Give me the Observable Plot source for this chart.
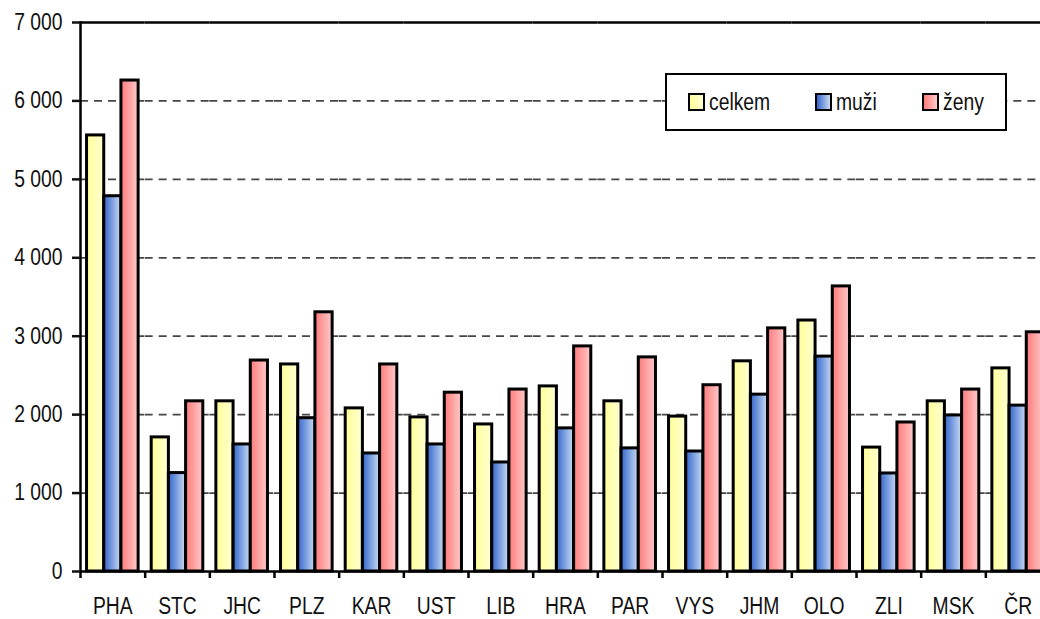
<!DOCTYPE html>
<html>
<head>
<meta charset="utf-8">
<script src="https://cdn.jsdelivr.net/npm/d3@7"></script>
<script src="https://cdn.jsdelivr.net/npm/@observablehq/plot@0.6"></script>
<style>
  html, body { margin: 0; padding: 0; background: #fff; overflow: hidden; }
  #wrap { position: relative; width: 1040px; height: 619px; overflow: hidden; }
  #wrap svg { position: absolute; left: 0; top: 0; max-width: none !important; }
  #legend {
    position: absolute; left: 665px; top: 73px; width: 338px; height: 54px;
    border: 2px solid #000; background: #fff;
    display: flex; align-items: center; justify-content: center; gap: 45px;
    color: #111;
  }
  .item { display: flex; align-items: center; }
  .sw { width: 13px; height: 14px; border: 2px solid #000; margin-right: 4px; flex: none; }
  .lab { display: inline-block; transform-origin: left center; white-space: nowrap; }
</style>
</head>
<body>
<div id="wrap"><div id="legend"></div></div>
<script>
// ---- data ----
const regions = ["PHA", "STC", "JHC", "PLZ", "KAR", "UST", "LIB", "HRA", "PAR", "VYS", "JHM", "OLO", "ZLI", "MSK", "ČR"];
const series = ["celkem", "muži", "ženy"];
const celkem = [5560, 1710, 2170, 2640, 2080, 1965, 1875, 2360, 2170, 1975, 2680, 3200, 1580, 2170, 2590];
const muzi   = [4785, 1255, 1620, 1955, 1505, 1620, 1390, 1825, 1570, 1530, 2255, 2740, 1250, 1990, 2115];
const zeny   = [6260, 2170, 2690, 3305, 2640, 2280, 2320, 2870, 2730, 2375, 3100, 3635, 1900, 2320, 3050];
const yTicks = [0, 1000, 2000, 3000, 4000, 5000, 6000, 7000];
const gridTicks = [1000, 2000, 3000, 4000, 5000, 6000];

const gradStops = {
  "celkem": ["#ffff99", "#ffffd2"],
  "muži":   ["#3366cc", "#cadcf3"],
  "ženy":   ["#ff7b7b", "#ffcaca"]
};

const fontFamily = "'Liberation Sans', Arial, sans-serif";
const fontSize = 23;
const squeeze = 0.84;

const rows = [];
regions.forEach((r, i) => {
  rows.push({region: r, series: series[0], value: celkem[i]});
  rows.push({region: r, series: series[1], value: muzi[i]});
  rows.push({region: r, series: series[2], value: zeny[i]});
});

const width = 1050, height = 619, marginLeft = 80, marginRight = 0, marginTop = 22, marginBottom = 48;
const step = (width - marginLeft - marginRight) / regions.length;
const fmt = (d) => d3.format(",")(d).replace(/,/g, " ");
const gradId = (s) => "grad-" + series.indexOf(s);

const svg = Plot.plot({
  width, height, marginLeft, marginRight, marginTop, marginBottom,
  style: {fontFamily, fontSize: fontSize + "px", color: "#111", background: "#fff"},
  fx: {domain: regions, padding: 0, round: false},
  x: {domain: series, paddingInner: 0, paddingOuter: 0.38, round: false, axis: null},
  y: {domain: [0, 7000], axis: null},
  color: {domain: series, range: series.map((s) => `url(#${gradId(s)})`)},
  marks: [
    Plot.ruleY(gridTicks, {stroke: "#454545", strokeWidth: 1.7, strokeDasharray: "8,6"}),
    Plot.ruleY([7000], {stroke: "#000", strokeWidth: 2.5}),
    Plot.barY(rows, {fx: "region", x: "series", y: "value", fill: "series", stroke: "#000", strokeWidth: 3}),
    Plot.ruleY([0], {stroke: "#000", strokeWidth: 2.5}),
    Plot.ruleX(regions, {fx: (d) => d, x: null, y1: () => 0, y2: () => 0, insetBottom: -7, dx: -step / 2, stroke: "#000", strokeWidth: 2.5}),
    Plot.frame({anchor: "left", facetAnchor: "left", stroke: "#000", strokeWidth: 2.5}),
    Plot.axisY({ticks: yTicks, tickFormat: fmt, tickSize: 8, tickPadding: 10, strokeWidth: 2.5, fontSize, fill: "#111", label: null}),
    Plot.axisFx({anchor: "bottom", tickSize: 0, tickPadding: 26, fontSize, fill: "#111", label: null})
  ]
});

const defs = d3.select(svg).insert("defs", ":first-child");
series.forEach((s) => {
  const g = defs.append("linearGradient").attr("id", gradId(s)).attr("x1", "0").attr("x2", "1").attr("y1", "0").attr("y2", "0");
  g.append("stop").attr("offset", "0%").attr("stop-color", gradStops[s][0]);
  g.append("stop").attr("offset", "100%").attr("stop-color", gradStops[s][1]);
});

const wrap = document.getElementById("wrap");
wrap.insertBefore(svg, wrap.firstChild);

// condense text horizontally (the reference uses a narrow face)
svg.querySelectorAll("text").forEach((t) => {
  const len = t.getComputedTextLength();
  if (len > 0) {
    t.setAttribute("textLength", (len * squeeze).toFixed(2));
    t.setAttribute("lengthAdjust", "spacingAndGlyphs");
  }
});

const legend = d3.select("#legend").style("font-family", fontFamily).style("font-size", fontSize + "px");
series.forEach((s) => {
  const it = legend.append("div").attr("class", "item");
  it.append("div").attr("class", "sw").style("background", `linear-gradient(to right, ${gradStops[s][0]}, ${gradStops[s][1]})`);
  const lab = it.append("span").attr("class", "lab").text(s);
  const w = lab.node().getBoundingClientRect().width;
  lab.style("transform", `scaleX(${squeeze})`).style("margin-right", `${-(1 - squeeze) * w}px`);
});
</script>
</body>
</html>
